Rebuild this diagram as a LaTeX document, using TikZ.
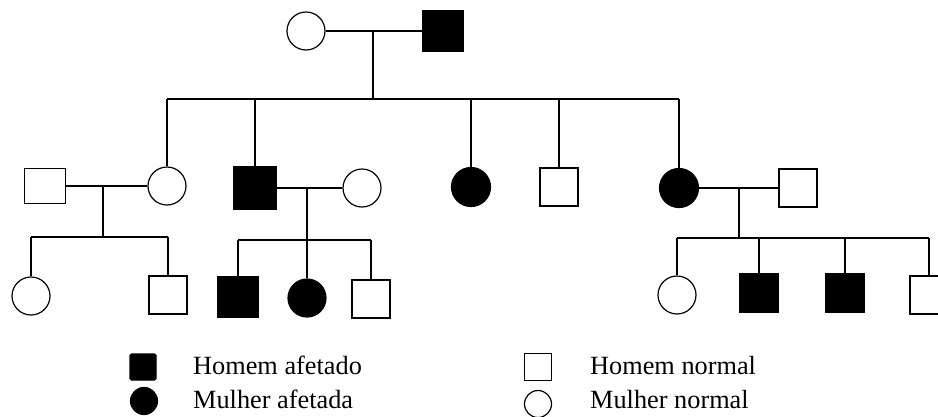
\documentclass[tikz,border=0pt]{standalone}
\usepackage{fontspec}
\setmainfont{Liberation Serif}
\usetikzlibrary{positioning}
\tikzset{
    male/.style={draw, rectangle, minimum size=38pt, inner sep=0pt, line width=1.2pt},
    female/.style={draw, circle, minimum size=38pt, inner sep=0pt, line width=1.2pt},
    affected/.style={fill=black},
    thickline/.style={line width=1.8pt},
    thinline/.style={line width=1.2pt},
    legend/.style={anchor=base west, inner sep=0pt, font=\fontsize{26.3}{30}\selectfont}
}
\begin{document}
\begin{tikzpicture}[x=1pt, y=-1pt]
    \useasboundingbox (0,0) rectangle (938,416);
    \clip (0,0) rectangle (938,416);
    % First generation
    \node[female] (i1) at (306,31) {};
    \node[male, affected, minimum size=41pt] (i2) at (443,31) {};
    \coordinate (m1) at (373,31);
    \coordinate (s1) at (373,99);
    \draw[thickline] (i1) -- (i2);
    \draw[thickline] (m1) -- (s1);
    % Second generation
    \node[male, minimum width=41pt, minimum height=35pt] (ii0) at (45,186) {};
    \node[female] (ii1) at (167,186) {};
    \node[male, affected, minimum size=42pt] (ii2) at (255,188) {};
    \node[female] (ii2w) at (362,188) {};
    \node[female, affected, minimum size=39pt] (ii3) at (471,187) {};
    \node[male] (ii4) at (559,187) {};
    \node[female, affected, minimum size=39pt] (ii5) at (679,188) {};
    \node[male] (ii6) at (798,188) {};
    \draw[thickline] (ii1 |- s1) -- (ii5 |- s1);
    \foreach \c in {ii1, ii2, ii3, ii4, ii5}
        \draw[thickline] (\c |- s1) -- (\c);
    % Couples of the second generation
    \draw[thickline] (ii0) -- (ii1);
    \draw[thinline] (ii2) -- (ii2w);
    \draw[thinline] (ii5) -- (ii6);
    \coordinate (ma) at (103,186);
    \coordinate (sa) at (103,237);
    \coordinate (mb) at (307,188);
    \coordinate (sb) at (307,240);
    \coordinate (mc) at (739,188);
    \coordinate (sc) at (739,238);
    \draw[thinline] (ma) -- (sa);
    \draw[thinline] (mb) -- (sb);
    \draw[thickline] (mc) -- (sc);
    % Third generation
    \node[female] (iii1) at (31,296) {};
    \node[male] (iii2) at (168,295) {};
    \node[male, affected, minimum size=41pt] (iii3) at (238,297) {};
    \node[female, affected] (iii4) at (307,298) {};
    \node[male] (iii5) at (371,299) {};
    \node[female] (iii6) at (677,295) {};
    \node[male, affected] (iii7) at (759,293) {};
    \node[male, affected] (iii8) at (845,293) {};
    \node[male] (iii9) at (929,295) {};
    \draw[thinline] (iii1 |- sa) -- (iii2 |- sa);
    \draw[thinline] (iii3 |- sb) -- (iii5 |- sb);
    \draw[thinline] (iii6 |- sc) -- (iii9 |- sc);
    \foreach \c in {iii1, iii2}
        \draw[thinline] (\c |- sa) -- (\c);
    \foreach \c in {iii3, iii4, iii5}
        \draw[thinline] (\c |- sb) -- (\c);
    \foreach \c in {iii6, iii7, iii8, iii9}
        \draw[thinline] (\c |- sc) -- (\c);
    % Legend
    \node[male, affected, minimum size=26pt, rounded corners=1.5pt] (lam) at (143,367) {};
    \node[female, affected, minimum size=27pt] (laf) at (144,401) {};
    \node[male, minimum size=27pt] (lnm) at (538,367) {};
    \node[female, minimum size=27pt] (lnf) at (538,404) {};
    \node[legend] (tam) at (193,374) {Homem afetado};
    \node[legend] (taf) at (193,408) {Mulher afetada};
    \node[legend] (tnm) at (590,374) {Homem normal};
    \node[legend] (tnf) at (590,408) {Mulher normal};
\end{tikzpicture}
\end{document}
